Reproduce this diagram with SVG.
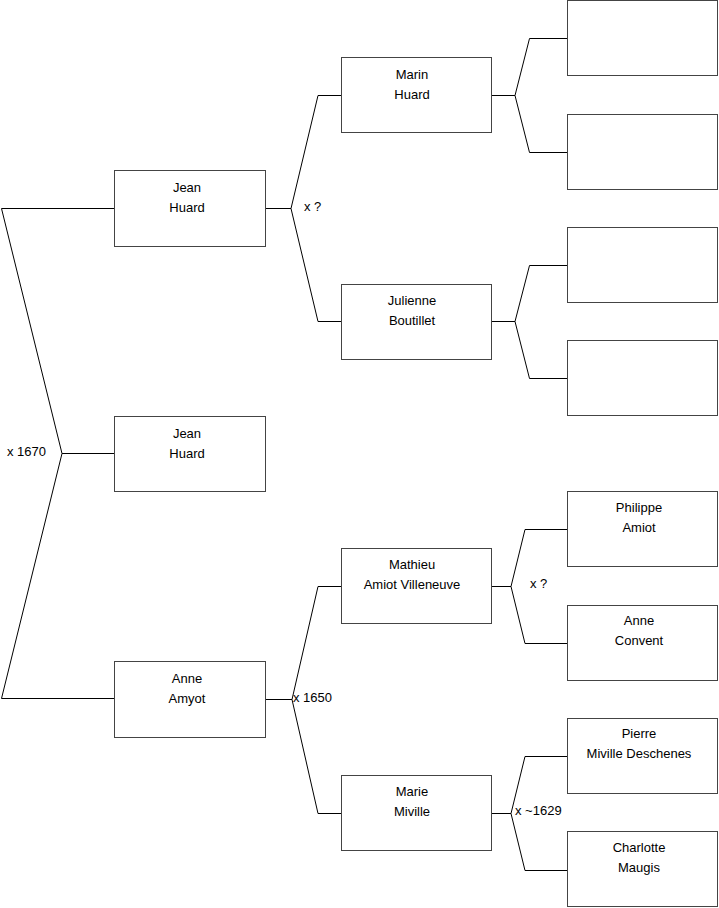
<svg xmlns="http://www.w3.org/2000/svg" width="719" height="908" viewBox="0 0 719 908">
<style>
.box{fill:#fff;stroke:#444;stroke-width:1}
.c{fill:none;stroke:#000;stroke-width:1}
text{font-family:"Liberation Sans",Arial,sans-serif;font-size:13px;fill:#000}
.n{text-anchor:middle}
</style>
<rect width="719" height="908" fill="#fff"/>
<g id="connectors">
<path class="c" d="M114,208.5H1.5L62,453.5L1.5,698.5H114M62,453.5H114"/>
<path class="c" d="M265,208.5H291L318,95.5H341M291,208.5L318,321.5H341"/>
<path class="c" d="M265,699.5H292L318,586.5H341M292,699.5L318,813.5H341"/>
<path class="c" d="M492,95.5H515L529.5,38.5H567M515,95.5L529.5,152.5H567"/>
<path class="c" d="M492,321.5H515L529.5,265.5H567M515,321.5L529.5,378.5H567"/>
<path class="c" d="M492,586.5H511L525,529.5H567M511,586.5L525,643.5H567"/>
<path class="c" d="M492,813.5H511L525,756.5H567M511,813.5L525,870.5H567"/>
<text x="304" y="211">x ?</text>
<text x="7" y="456">x 1670</text>
<text x="293" y="702">x 1650</text>
<text x="530" y="588">x ?</text>
<text x="515" y="815">x ~1629</text>
</g>
<g id="n1"><rect class="box" x="114.5" y="170.5" width="151" height="76"/><text class="n" x="187" y="191.5">Jean</text><text class="n" x="187" y="211.5">Huard</text></g>
<g id="n0"><rect class="box" x="114.5" y="416.5" width="151" height="75"/><text class="n" x="187" y="437.5">Jean</text><text class="n" x="187" y="457.5">Huard</text></g>
<g id="n2"><rect class="box" x="114.5" y="661.5" width="151" height="76"/><text class="n" x="187" y="682.5">Anne</text><text class="n" x="187" y="702.5">Amyot</text></g>
<g id="n3"><rect class="box" x="341.5" y="57.5" width="150" height="75"/><text class="n" x="412" y="78.5">Marin</text><text class="n" x="412" y="98.5">Huard</text></g>
<g id="n4"><rect class="box" x="341.5" y="284.5" width="150" height="75"/><text class="n" x="412" y="304.5">Julienne</text><text class="n" x="412" y="324.5">Boutillet</text></g>
<g id="n5"><rect class="box" x="341.5" y="548.5" width="150" height="75"/><text class="n" x="412" y="569">Mathieu</text><text class="n" x="412" y="589">Amiot Villeneuve</text></g>
<g id="n6"><rect class="box" x="341.5" y="775.5" width="150" height="75"/><text class="n" x="412" y="796">Marie</text><text class="n" x="412" y="816">Miville</text></g>
<g id="n7"><rect class="box" x="567.5" y="0.5" width="150" height="75"/></g>
<g id="n8"><rect class="box" x="567.5" y="114.5" width="150" height="75"/></g>
<g id="n9"><rect class="box" x="567.5" y="227.5" width="150" height="75"/></g>
<g id="n10"><rect class="box" x="567.5" y="340.5" width="150" height="75"/></g>
<g id="n11"><rect class="box" x="567.5" y="491.5" width="150" height="75"/><text class="n" x="639" y="512">Philippe</text><text class="n" x="639" y="532">Amiot</text></g>
<g id="n12"><rect class="box" x="567.5" y="605.5" width="150" height="75"/><text class="n" x="639" y="625">Anne</text><text class="n" x="639" y="645">Convent</text></g>
<g id="n13"><rect class="box" x="567.5" y="718.5" width="150" height="75"/><text class="n" x="639" y="738">Pierre</text><text class="n" x="639" y="758">Miville Deschenes</text></g>
<g id="n14"><rect class="box" x="567.5" y="831.5" width="150" height="75"/><text class="n" x="639" y="852">Charlotte</text><text class="n" x="639" y="872">Maugis</text></g>
</svg>
